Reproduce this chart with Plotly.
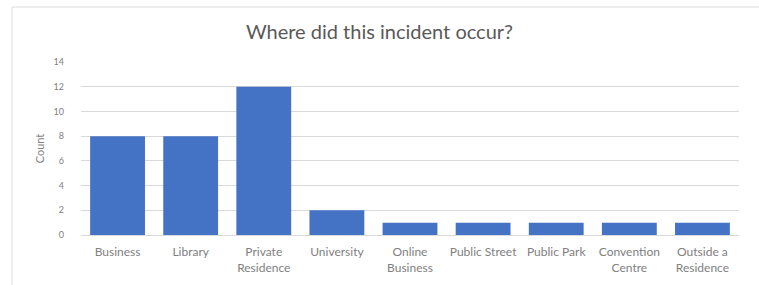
import plotly.graph_objects as go

categories = ["Business", "Library", "Private<br>Residence", "University", "Online<br>Business",
              "Public Street", "Public Park", "Convention<br>Centre", "Outside a<br>Residence"]
counts = [8, 8, 12, 2, 1, 1, 1, 1, 1]
y_ticks = [0, 2, 4, 6, 8, 10, 12, 14]

fig = go.Figure(go.Bar(x=categories, y=counts, marker=dict(color="#4472C4", line=dict(width=0))))

W, H = 759, 285
L, R, T, B = 81, 20, 62, 50
pw, ph = W - L - R, H - T - B

def px_x(x):
    return (x - L) / pw

def px_y(y):
    return (H - B - y) / ph

fig.update_layout(
    width=W, height=H,
    margin=dict(l=L, r=R, t=T, b=B, autoexpand=False),
    paper_bgcolor="white", plot_bgcolor="white",
    bargap=0.25,
    font=dict(family="Lato, Open Sans, sans-serif", color="#808080", size=9),
    title=dict(text="Where did this incident occur?", x=0.5, xanchor="center", y=1 - 32 / H, yanchor="middle",
               font=dict(size=20, color="#595959")),
    showlegend=False,
    xaxis=dict(showgrid=False, showline=True, linecolor="#d9d9d9", ticks="", tickangle=0,
               ticklabelstandoff=6, tickfont=dict(size=12, color="#808080")),
    yaxis=dict(range=[0, 14], tickvals=y_ticks, showgrid=True, gridcolor="#d9d9d9", zeroline=False,
               ticks="", ticklabelstandoff=16, tickfont=dict(size=9, color="#808080"),
               title=dict(text="Count", font=dict(size=11, color="#808080"), standoff=6)),
    shapes=[dict(type="rect", xref="paper", yref="paper", x0=px_x(12), x1=px_x(765), y0=px_y(295), y1=px_y(7),
                 line=dict(color="#dcdcdc", width=1))],
)

fig.write_html("out.html", config={"displayModeBar": False},
               post_script="document.body.style.margin='0';document.body.style.overflow='hidden';")
